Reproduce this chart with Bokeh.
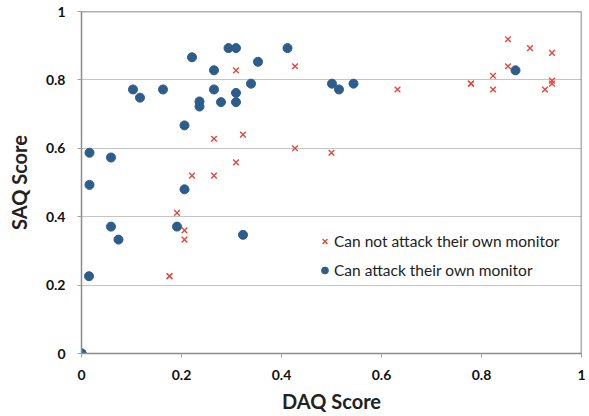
from bokeh.plotting import figure
from bokeh.models import Range1d, FixedTicker, Legend, LegendItem, Span
from bokeh.embed import file_html
from bokeh.resources import INLINE

# Data
attack_x = [0.016, 0.016, 0.015, 0.059, 0.059, 0.074, 0.103, 0.117, 0.163, 0.191,
            0.206, 0.206, 0.221, 0.236, 0.236, 0.265, 0.265, 0.279, 0.294, 0.309,
            0.309, 0.309, 0.323, 0.339, 0.353, 0.412, 0.501, 0.515, 0.544, 0.868,
            0.0, 0.0, 0.0]
attack_y = [0.587, 0.493, 0.226, 0.573, 0.371, 0.333, 0.772, 0.748, 0.772, 0.371,
            0.667, 0.480, 0.866, 0.737, 0.722, 0.828, 0.772, 0.735, 0.893, 0.893,
            0.762, 0.735, 0.347, 0.789, 0.853, 0.893, 0.789, 0.772, 0.789, 0.828,
            0.0, 0.0, 0.0]

noattack_x = [0.309, 0.427, 0.265, 0.323, 0.427, 0.309, 0.221, 0.265, 0.500, 0.632,
              0.779, 0.779, 0.823, 0.823, 0.853, 0.853, 0.897, 0.941, 0.927, 0.941,
              0.941, 0.191, 0.206, 0.206, 0.176, 0.176, 0.0]
noattack_y = [0.828, 0.840, 0.628, 0.640, 0.600, 0.559, 0.520, 0.520, 0.587, 0.772,
              0.789, 0.789, 0.812, 0.772, 0.919, 0.840, 0.893, 0.879, 0.772, 0.798,
              0.789, 0.411, 0.360, 0.333, 0.226, 0.226, 0.0]

x_ticks = [0, 0.2, 0.4, 0.6, 0.8, 1]
x_tick_labels = ["0", "0.2", "0.4", "0.6", "0.8", "1"]
y_ticks = [0, 0.2, 0.4, 0.6, 0.8, 1]
y_tick_labels = ["0", "0.2", "0.4", "0.6", "0.8", "1"]

series_names = ["Can not attack their own monitor", "Can attack their own monitor"]

FONT = "Lato"

p = figure(width=589, height=416, output_backend="svg", toolbar_location=None,
           x_range=Range1d(0, 1), y_range=Range1d(0, 1),
           min_border_left=81, min_border_right=8, min_border_top=11, min_border_bottom=63)
p.background_fill_color = "white"
p.border_fill_color = "white"
p.outline_line_color = None

r_no = p.scatter(noattack_x, noattack_y, marker="x", size=8, line_color="#e5483b",
                 line_width=1.4)
r_yes = p.scatter(attack_x, attack_y, marker="circle", size=9, fill_color="#2c5d8c",
                  line_color="#2c5d8c")

# border at top and right
p.add_layout(Span(location=1, dimension="width", line_color="#606060", line_width=1.5))
p.add_layout(Span(location=1, dimension="height", line_color="#606060", line_width=1.5))

p.xgrid.visible = False
p.ygrid.ticker = FixedTicker(ticks=y_ticks[1:-1])
p.ygrid.grid_line_color = "#c4c4c4"
p.ygrid.grid_line_width = 1

for ax, ticks, labels in ((p.xaxis[0], x_ticks, x_tick_labels), (p.yaxis[0], y_ticks, y_tick_labels)):
    ax.ticker = FixedTicker(ticks=ticks)
    ax.major_label_overrides = {t: l for t, l in zip(ticks, labels)}
    ax.minor_tick_line_color = None
    ax.major_tick_in = 0
    ax.major_tick_out = 4
    ax.major_tick_line_color = "#a0a0a0"
    ax.axis_line_color = "#8c8c8c"
    ax.axis_line_width = 1.5
    ax.major_label_text_font = FONT
    ax.major_label_text_font_style = "bold"
    ax.major_label_text_font_size = "14px"
    ax.major_label_text_color = "#111111"
    ax.axis_label_text_font = FONT
    ax.axis_label_text_font_style = "bold"
    ax.axis_label_text_font_size = "20px"
    ax.axis_label_text_color = "#222222"

p.xaxis.axis_label = "DAQ Score"
p.yaxis.axis_label = "SAQ Score"
p.xaxis.major_label_standoff = 12
p.yaxis.major_label_standoff = 12
p.xaxis.axis_label_standoff = 6
p.yaxis.axis_label_standoff = 12

legend = Legend(items=[LegendItem(label=series_names[0], renderers=[r_no]),
                       LegendItem(label=series_names[1], renderers=[r_yes])],
                location=(235, 74), orientation="vertical")
legend.background_fill_alpha = 0
legend.border_line_color = None
legend.padding = 0
legend.margin = 0
legend.spacing = 11
legend.glyph_width = 17
legend.glyph_height = 18
legend.label_height = 18
legend.label_standoff = 1
legend.label_text_font = FONT
legend.label_text_font_size = "15.5px"
legend.label_text_color = "#222222"
p.add_layout(legend)

open("out.html", "w").write(file_html(p, INLINE))
